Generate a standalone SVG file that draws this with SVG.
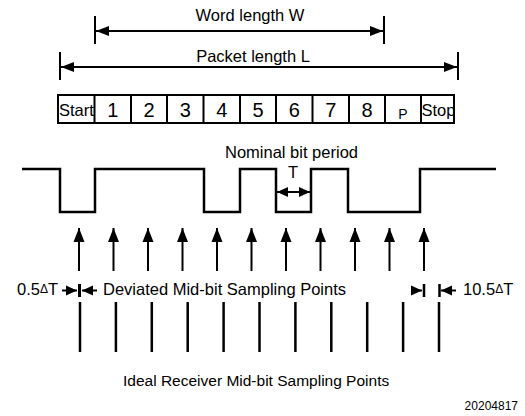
<svg xmlns="http://www.w3.org/2000/svg" width="525" height="416" viewBox="0 0 525 416">
<style>
text{font-family:"Liberation Sans",Arial,sans-serif;fill:#000}
.t16{font-size:16.5px}
.dig{font-size:20px;text-anchor:middle}
.ln{stroke:#000;stroke-width:2;fill:none}
.wave{stroke:#000;stroke-width:2.5;fill:none}
.cell{stroke:#000;stroke-width:2;fill:#fff}
</style>
<defs>
<marker id="ah" markerUnits="userSpaceOnUse" markerWidth="14" markerHeight="10" refX="13" refY="5" orient="auto-start-reverse" overflow="visible">
<path d="M0,0 L13,5 L0,10 Z" fill="#000"/>
</marker>
<marker id="ahs" markerUnits="userSpaceOnUse" markerWidth="12" markerHeight="10" refX="11" refY="5" orient="auto-start-reverse" overflow="visible">
<path d="M0,0 L11,5 L0,10 Z" fill="#000"/>
</marker>
<marker id="up" markerUnits="userSpaceOnUse" markerWidth="15" markerHeight="11" refX="14" refY="5.5" orient="auto" overflow="visible">
<path d="M0,0 L14,5.5 L0,11 Z" fill="#000"/>
</marker>
</defs>

<g id="word-length">
<line class="ln" x1="95" y1="16" x2="95" y2="44"/>
<line class="ln" x1="384" y1="16" x2="384" y2="44"/>
<line class="ln" x1="96" y1="31" x2="383" y2="31" marker-start="url(#ah)" marker-end="url(#ah)"/>
<text class="t16" x="250" y="21" text-anchor="middle">Word length W</text>
</g>

<g id="packet-length">
<line class="ln" x1="60" y1="52" x2="60" y2="80"/>
<line class="ln" x1="458" y1="52" x2="458" y2="80"/>
<line class="ln" x1="61" y1="67" x2="457" y2="67" marker-start="url(#ah)" marker-end="url(#ah)"/>
<text class="t16" x="253" y="62" text-anchor="middle">Packet length L</text>
</g>

<g id="packet">
<rect class="cell" x="58" y="95" width="396" height="28"/>
<path class="ln" d="M94.5,95V123M131,95V123M167,95V123M203.5,95V123M240,95V123M276,95V123M312.5,95V123M349,95V123M385,95V123M421,95V123"/>
<text class="t16" x="59" y="116">Start</text>
<text class="dig" x="112.75" y="117">1</text>
<text class="dig" x="149" y="117">2</text>
<text class="dig" x="185.25" y="117">3</text>
<text class="dig" x="221.75" y="117">4</text>
<text class="dig" x="258" y="117">5</text>
<text class="dig" x="294.25" y="117">6</text>
<text class="dig" x="330.75" y="117">7</text>
<text class="dig" x="367" y="117">8</text>
<text x="403" y="119" font-size="14" text-anchor="middle">P</text>
<text class="t16" x="421.5" y="116">Stop</text>
</g>

<g id="waveform">
<path class="wave" d="M22,169H60V212H95V169H204V212H240V169H276V212H311V169H348V212H420V169H496"/>
</g>

<g id="bit-period">
<text class="t16" x="291.5" y="158" text-anchor="middle">Nominal bit period</text>
<text class="t16" x="293" y="178" text-anchor="middle">T</text>
<line class="ln" x1="277" y1="192" x2="310" y2="192" marker-start="url(#ahs)" marker-end="url(#ahs)"/>
</g>

<g id="connectors">
<g class="ln">
<line x1="79" y1="271" x2="79" y2="228" marker-end="url(#up)"/>
<line x1="113.5" y1="271" x2="113.5" y2="228" marker-end="url(#up)"/>
<line x1="148" y1="271" x2="148" y2="228" marker-end="url(#up)"/>
<line x1="182.5" y1="271" x2="182.5" y2="228" marker-end="url(#up)"/>
<line x1="217" y1="271" x2="217" y2="228" marker-end="url(#up)"/>
<line x1="251.5" y1="271" x2="251.5" y2="228" marker-end="url(#up)"/>
<line x1="286" y1="271" x2="286" y2="228" marker-end="url(#up)"/>
<line x1="320.5" y1="271" x2="320.5" y2="228" marker-end="url(#up)"/>
<line x1="355" y1="271" x2="355" y2="228" marker-end="url(#up)"/>
<line x1="389.5" y1="271" x2="389.5" y2="228" marker-end="url(#up)"/>
<line x1="424" y1="271" x2="424" y2="228" marker-end="url(#up)"/>
</g>
<path d="M80,302V352M115.9,302V352M151.8,302V352M187.7,302V352M223.6,302V352M259.5,302V352M295.4,302V352M331.3,302V352M367.2,302V352M403.1,302V352M439,302V352" stroke="#000" stroke-width="2.5" fill="none"/>
</g>

<g id="deviation-left">
<line class="ln" x1="62" y1="290.5" x2="77" y2="290.5" marker-end="url(#ahs)"/>
<line x1="79.5" y1="284" x2="79.5" y2="297" stroke="#000" stroke-width="3"/>
<line class="ln" x1="97" y1="290.5" x2="82" y2="290.5" marker-end="url(#ahs)"/>
<text class="t16" x="17" y="295">0.5<tspan font-size="12" dy="-2">Δ</tspan><tspan dy="2">T</tspan></text>
</g>

<text id="deviated-label" class="t16" x="103" y="295">Deviated Mid-bit Sampling Points</text>

<g id="deviation-right">
<line class="ln" x1="413" y1="290.5" x2="422" y2="290.5" marker-end="url(#ahs)"/>
<line x1="424" y1="284" x2="424" y2="297" stroke="#000" stroke-width="2.5"/>
<line x1="439.5" y1="284" x2="439.5" y2="297" stroke="#000" stroke-width="2.5"/>
<line class="ln" x1="456" y1="290.5" x2="441" y2="290.5" marker-end="url(#ahs)"/>
<text class="t16" x="463" y="295">10.5<tspan font-size="12" dy="-2">Δ</tspan><tspan dy="2">T</tspan></text>
</g>

<text id="ideal-label" x="123" y="386" font-size="15.5">Ideal Receiver Mid-bit Sampling Points</text>
<text id="fig-number" x="518" y="410" font-size="12" text-anchor="end">20204817</text>
</svg>
